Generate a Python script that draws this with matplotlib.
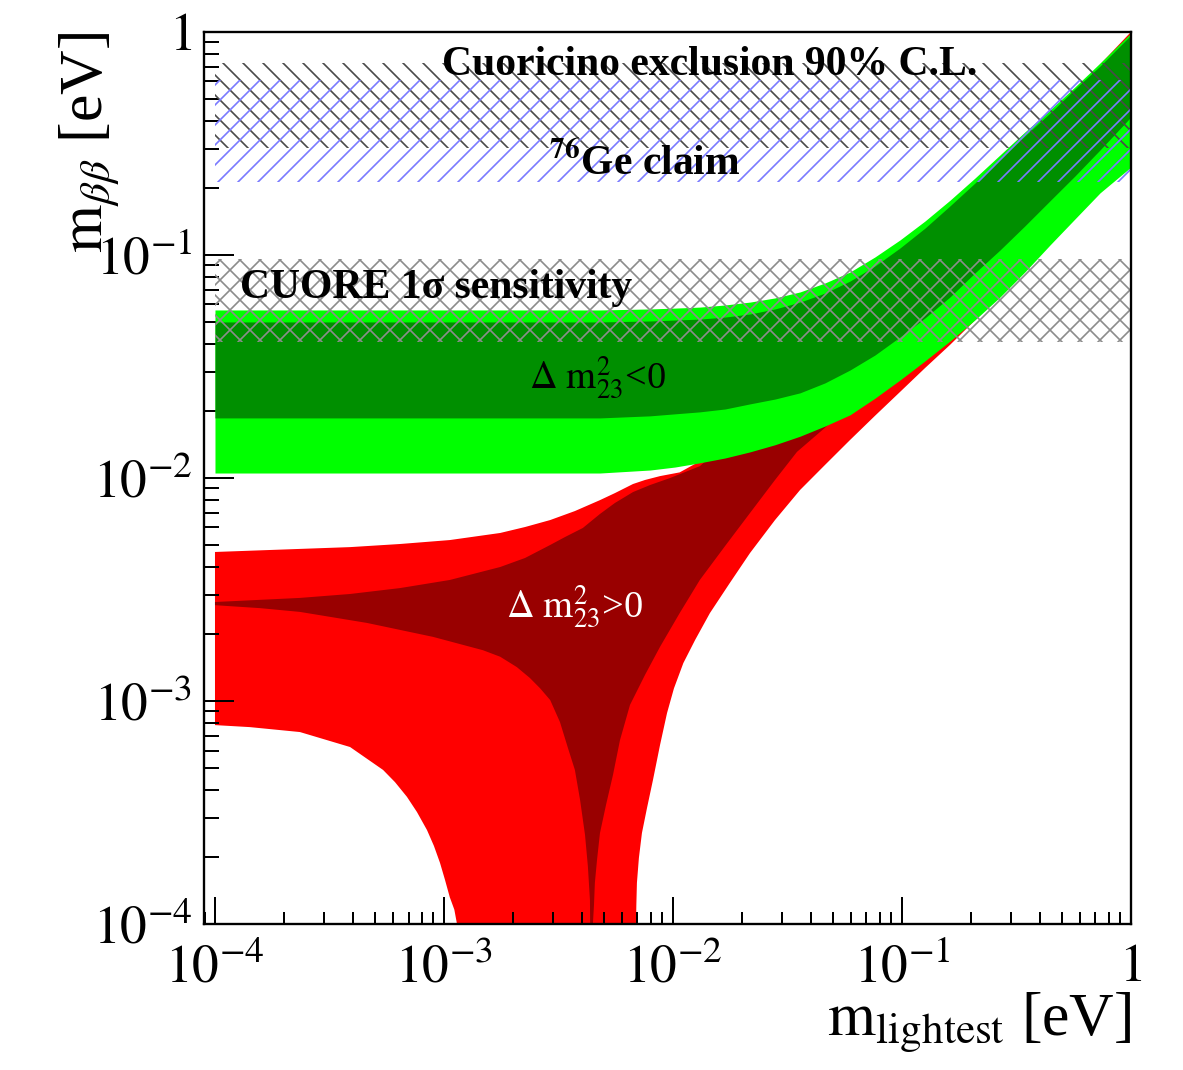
import matplotlib
matplotlib.use("Agg")
import matplotlib.pyplot as plt

plt.rcParams["font.family"] = ["Liberation Serif", "DejaVu Serif"]
plt.rcParams["mathtext.fontset"] = "stix"
plt.rcParams["hatch.linewidth"] = 1.0

# inverted ordering (dm2_23 < 0): 3 sigma and best-fit bands
io_m = [1e-4, 4.80e-3, 7.94e-3, 1.02e-2, 1.31e-2, 1.69e-2, 2.17e-2, 2.79e-2,
        3.59e-2, 4.61e-2, 5.93e-2, 7.62e-2, 9.80e-2, 0.126, 0.162, 0.208,
        0.268, 0.344, 0.443, 0.569, 0.733, 1.0]
io_3s_hi = [0.0567, 0.0567, 0.0573, 0.0578, 0.0584, 0.0597, 0.0615, 0.0642,
            0.0683, 0.0749, 0.0839, 0.0980, 0.1168, 0.142, 0.176, 0.221,
            0.281, 0.356, 0.447, 0.567, 0.726, 0.990]
io_bf_hi = [0.0501, 0.0501, 0.0506, 0.0511, 0.0516, 0.0527, 0.0544, 0.0573,
            0.0615, 0.0675, 0.0764, 0.0893, 0.1075, 0.132, 0.166, 0.210,
            0.269, 0.342, 0.433, 0.555, 0.704, 0.969]
io_bf_lo = [0.0186, 0.0186, 0.0190, 0.0194, 0.0198, 0.0204, 0.0215, 0.0226,
            0.0241, 0.0267, 0.0305, 0.0356, 0.0429, 0.0522, 0.0648, 0.0830,
            0.1053, 0.135, 0.175, 0.226, 0.296, 0.416]
io_3s_lo = [0.01053, 0.01053, 0.01086, 0.0112, 0.0117, 0.0123, 0.0131, 0.0141,
            0.0154, 0.0171, 0.0192, 0.0228, 0.0275, 0.0335, 0.0411, 0.0511,
            0.0648, 0.0839, 0.1109, 0.145, 0.190, 0.248]

# normal ordering (dm2_23 > 0), 3 sigma region: upper edge, right edge, left lobe
no_3s_hi_m = [1e-4, 2.35e-4, 3.89e-4, 6.43e-4, 1.06e-3, 1.76e-3, 2.26e-3,
              2.91e-3, 3.73e-3, 4.80e-3, 5.58e-3, 6.69e-3, 7.55e-3, 8.78e-3,
              1.07e-2, 1.77e-2, 3.59e-2, 9.80e-2, 0.268, 1.0]
no_3s_hi = [0.00466, 0.00481, 0.00490, 0.00506, 0.00527, 0.00567, 0.00603,
            0.00648, 0.00711, 0.00796, 0.00856, 0.0094, 0.0098, 0.0102,
            0.0106, 0.0141, 0.0275, 0.0857, 0.241, 1.0]
no_3s_right_m = [1.0, 0.733, 0.373, 0.213, 0.162, 0.126, 9.80e-2, 7.62e-2,
                 5.93e-2, 4.61e-2, 3.59e-2, 2.79e-2, 2.17e-2, 1.77e-2, 1.45e-2,
                 1.25e-2, 1.11e-2, 1.01e-2, 9.42e-3, 8.78e-3, 8.18e-3, 7.70e-3,
                 7.32e-3, 7.10e-3, 6.96e-3, 6.92e-3, 6.90e-3, 6.88e-3]
no_3s_right = [0.259, 0.196, 0.0969, 0.0521, 0.0395, 0.0311, 0.0243, 0.0190,
               0.0148, 0.01144, 0.00884, 0.00648, 0.00461, 0.00338, 0.00248,
               0.00188, 0.00148, 0.00114, 8.83e-4, 6.35e-4, 4.43e-4, 3.31e-4,
               2.56e-4, 1.98e-4, 1.53e-4, 1.22e-4, 1.0e-4, 1e-5]
no_3s_left_m = [1e-4, 1.42e-4, 2.35e-4, 3.89e-4, 5.42e-4, 6.11e-4, 6.89e-4,
                7.62e-4, 8.43e-4, 9.04e-4, 9.61e-4, 1.01e-3, 1.06e-3, 1.11e-3,
                1.14e-3, 1.17e-3]
no_3s_left = [7.8e-4, 7.64e-4, 7.26e-4, 6.22e-4, 4.91e-4, 4.33e-4, 3.72e-4,
              3.18e-4, 2.64e-4, 2.24e-4, 1.88e-4, 1.58e-4, 1.32e-4, 1.16e-4,
              1.0e-4, 1e-5]

# normal ordering, best-fit region
no_bf_hi_m = [1e-4, 2.35e-4, 3.89e-4, 6.43e-4, 1.06e-3, 1.76e-3, 2.26e-3,
              2.91e-3, 3.38e-3, 4.04e-3, 4.80e-3, 5.58e-3, 6.69e-3, 7.94e-3,
              9.71e-3, 1.31e-2, 1.77e-2, 3.59e-2, 9.80e-2, 0.268, 1.0]
no_bf_hi = [0.00278, 0.00290, 0.00302, 0.00321, 0.00349, 0.00399, 0.00438,
            0.00501, 0.00544, 0.00597, 0.00690, 0.00773, 0.00865, 0.00930,
            0.0100, 0.0113, 0.0148, 0.0275, 0.0697, 0.196, 0.874]
no_bf_right_m = [1.0, 0.268, 9.80e-2, 5.93e-2, 4.61e-2, 3.48e-2, 2.79e-2,
                 2.17e-2, 1.69e-2, 1.31e-2, 1.07e-2, 8.78e-3, 7.55e-3, 6.49e-3,
                 5.87e-3, 5.47e-3, 5.10e-3, 4.80e-3, 4.66e-3, 4.56e-3, 4.52e-3,
                 4.47e-3, 4.43e-3]
no_bf_right = [0.364, 0.0931, 0.0349, 0.0212, 0.0168, 0.0131, 0.0098, 0.00697,
               0.00496, 0.00349, 0.00248, 0.00175, 0.00131, 9.6e-4, 6.68e-4,
               4.66e-4, 3.42e-4, 2.56e-4, 1.94e-4, 1.53e-4, 1.22e-4, 1.0e-4,
               1e-5]
no_bf_left_m = [1e-4, 1.57e-4, 2.35e-4, 4.61e-4, 8.95e-4, 1.48e-3, 1.76e-3,
                2.08e-3, 2.37e-3, 2.63e-3, 2.91e-3, 3.21e-3, 3.48e-3, 3.73e-3,
                3.93e-3, 4.13e-3, 4.25e-3, 4.34e-3, 4.43e-3]
no_bf_left = [0.00269, 0.00261, 0.00251, 0.00224, 0.00194, 0.00169, 0.00158,
              0.00142, 0.00127, 0.00114, 0.00101, 8.05e-4, 6.15e-4, 4.91e-4,
              3.60e-4, 2.51e-4, 1.82e-4, 1.28e-4, 1e-5]

# experimental bands [eV]
band_m = [1e-4, 1.0]
cuoricino = [0.302, 0.726]
ge_claim = [0.212, 0.609]
cuore = [0.0407, 0.0959]

decade_ticks = [1e-4, 1e-3, 1e-2, 1e-1, 1.0]
decade_labels = [r"$10^{-4}$", r"$10^{-3}$", r"$10^{-2}$", r"$10^{-1}$", r"$1$"]

DPI = 120
fig = plt.figure(figsize=(1183 / DPI, 1070 / DPI), dpi=DPI)
ax = fig.add_axes([0.1724, 0.1364, 0.7836, 0.8337])
ax.set_xscale("log")
ax.set_yscale("log")


def region(top_m, top, right_m, right, left_m, left):
    # closed outline: upper edge left->right, right edge downwards, lower edge back
    xs = list(top_m) + list(right_m) + list(left_m)[::-1]
    ys = list(top) + list(right) + list(left)[::-1]
    return xs, ys


x, y = region(no_3s_hi_m, no_3s_hi, no_3s_right_m, no_3s_right,
              no_3s_left_m, no_3s_left)
ax.fill(x, y, color="#ff0000", lw=0, zorder=1)
x, y = region(no_bf_hi_m, no_bf_hi, no_bf_right_m, no_bf_right,
              no_bf_left_m, no_bf_left)
ax.fill(x, y, color="#990000", lw=0, zorder=2)

ax.fill_between(io_m, io_3s_lo, io_3s_hi, color="#00ff00", lw=0, zorder=3)
ax.fill_between(io_m, io_bf_lo, io_bf_hi, color="#008f00", lw=0, zorder=4)

# hatched limits / claims
ax.fill_between(band_m, [cuore[0]] * 2, [cuore[1]] * 2, facecolor="none",
                edgecolor="#8c8c8c", hatch="xx", lw=0, zorder=5)
ax.fill_between(band_m, [cuoricino[0]] * 2, [cuoricino[1]] * 2,
                facecolor="none", edgecolor="#4a4a4a", hatch="\\\\", lw=0,
                zorder=5)
ax.fill_between(band_m, [ge_claim[0]] * 2, [ge_claim[1]] * 2, facecolor="none",
                edgecolor="#7a7aff", hatch="//", lw=0, zorder=6)

ax.set_xlim(8.95e-5, 1.0)
ax.set_ylim(1e-4, 1.0)

ax.set_xticks(decade_ticks, decade_labels)
ax.set_yticks(decade_ticks, decade_labels)
ax.minorticks_on()
ax.xaxis.set_minor_formatter(matplotlib.ticker.NullFormatter())
ax.yaxis.set_minor_formatter(matplotlib.ticker.NullFormatter())
ax.tick_params(which="both", direction="in", top=False, right=False,
               width=1.2, colors="black")
ax.tick_params(axis="y", which="major", length=18, pad=7, labelsize=32)
ax.tick_params(axis="y", which="minor", length=9)
ax.tick_params(axis="x", which="major", length=16, pad=12, labelsize=32)
ax.tick_params(axis="x", which="minor", length=7.5)
for s in ax.spines.values():
    s.set_linewidth(1.4)
    s.set_zorder(10)

ax.set_ylabel(r"$\mathrm{m}_{\beta\beta}$ [eV]", fontsize=37, loc="top")
ax.yaxis.set_label_coords(-0.090, 1.0)
ax.set_xlabel(r"$\mathrm{m}_{\mathrm{lightest}}$ [eV]", fontsize=37, loc="right")
ax.xaxis.set_label_coords(1.0, -0.075)

bold = dict(transform=ax.transAxes, ha="center", va="center",
            fontsize=25, fontweight="bold", zorder=8)
ax.text(0.546, 0.963, "Cuoricino exclusion 90% C.L.", **bold)
ax.text(0.476, 0.854, r"$\mathbf{^{76}}$Ge claim", **bold)
ax.text(0.250, 0.713, "CUORE 1σ sensitivity", **bold)
ax.text(0.425, 0.612, r"$\Delta\ \mathrm{m}^{2}_{23}$<0", transform=ax.transAxes,
        ha="center", va="center", fontsize=23, color="black", zorder=8)
ax.text(0.400, 0.355, r"$\Delta\ \mathrm{m}^{2}_{23}$>0", transform=ax.transAxes,
        ha="center", va="center", fontsize=23, color="white", zorder=8)

fig.savefig("out.png", dpi=DPI, facecolor="white")
